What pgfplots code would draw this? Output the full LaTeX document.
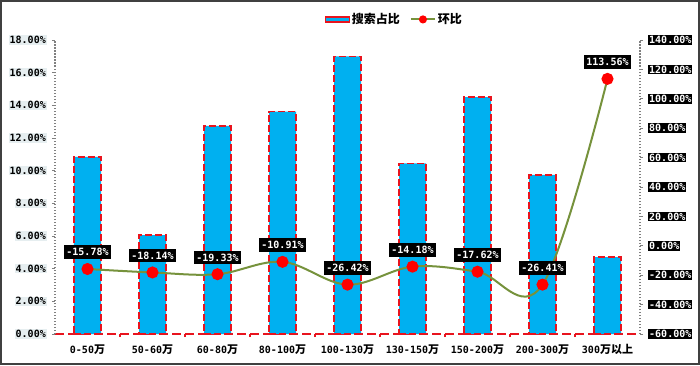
\documentclass[border=0pt]{standalone}
\usepackage{fontspec}
\setmainfont{Noto Sans CJK SC}
\newfontfamily\mono{DejaVu Sans Mono}
\usepackage{pgfplots}
\pgfplotsset{compat=1.18}
\definecolor{barblue}{HTML}{00B0F0}
\definecolor{barred}{HTML}{E8141E}
\definecolor{linegreen}{HTML}{76923C}
\definecolor{lblbg}{HTML}{E6EEF0}
\newcommand\m[1]{{\mono\bfseries\fontsize{10}{12}\selectfont #1}}
\begin{document}
\begin{tikzpicture}
\useasboundingbox (-55pt,-31pt) rectangle (645pt,334pt);
\begin{axis}[
  scale only axis, width=585pt, height=294pt,
  xmin=-0.5, xmax=8.5, ymin=0, ymax=18,
  axis x line*=bottom, axis y line*=left,
  x axis line style={barred, dash pattern=on 9pt off 4pt, line width=1.6pt, -},
  y axis line style={gray, dash pattern=on 1.5pt off 1.5pt, line width=1.8pt, -},
  xtick={0,...,8},
  xticklabels={{\m{0-50}万},{\m{50-60}万},{\m{60-80}万},{\m{80-100}万},{\m{100-130}万},{\m{130-150}万},{\m{150-200}万},{\m{200-300}万},{\m{300}万以上}},
  xticklabel style={font=\bfseries\fontsize{11}{13}\selectfont, yshift=-4pt},
  major x tick style={draw=none},
  minor xtick={0.5,1.5,...,7.5},
  minor x tick style={barred, line width=1.2pt},
  minor tick length=3pt,
  ytick={0,2,...,18},
  major y tick style={gray, line width=1pt},
  major tick length=3pt,
  tick align=outside,
  /pgf/number format/assume math mode=true,
  yticklabel={\m{\pgfmathprintnumber[fixed,fixed zerofill,precision=2]{\tick}\%}},
  yticklabel style={fill=lblbg, inner sep=1pt, xshift=-5pt},
  ybar, bar width=27pt,
  clip=false,
]
\addplot[fill=barblue, draw=barred, dash pattern=on 7pt off 3pt, line width=1.5pt, bar shift=0pt]
coordinates {(0,10.85) (1,6.05) (2,12.75) (3,13.62) (4,17.0) (5,10.45) (6,14.5) (7,9.75) (8,4.7)};
\end{axis}
\begin{axis}[
  scale only axis, width=585pt, height=294pt,
  xmin=-0.5, xmax=8.5, ymin=-60, ymax=140,
  axis y line*=right, axis x line=none,
  y axis line style={gray, dash pattern=on 1.5pt off 1.5pt, line width=1.8pt, -},
  ytick={-60,-40,...,140},
  major y tick style={gray, line width=1pt},
  major tick length=3pt,
  tick align=outside,
  /pgf/number format/assume math mode=true,
  yticklabel={\m{\pgfmathprintnumber[fixed,fixed zerofill,precision=2]{\tick}\%}},
  yticklabel style={fill=black, text=white, inner sep=1pt, xshift=5pt},
  clip=false,
  legend style={draw=none, fill=none, at={(0.58,1.07)}, anchor=center,
    legend columns=2, font=\bfseries\fontsize{12}{14}\selectfont,
    /tikz/every even column/.append style={column sep=8pt}},
]
\addlegendimage{legend image code/.code={\draw[fill=barblue, draw=barred, line width=1.3pt] (0pt,-2.5pt) rectangle (24pt,2.5pt);}}
\addlegendentry{搜索占比}
\addplot[color=linegreen, line width=2pt, smooth, tension=0.6,
  mark=*, mark size=5pt, mark options={fill=red, draw=red, solid},
  nodes near coords={\m{\pgfmathprintnumber[fixed,fixed zerofill,precision=2]{\pgfplotspointmeta}\%}},
  every node near coord/.append style={anchor=south, yshift=9pt, fill=black, text=white, inner xsep=2pt, inner ysep=3pt},
  legend image code/.code={\draw[linegreen, line width=2pt] (0pt,0pt) -- (24pt,0pt); \fill[red] (12pt,0pt) circle (3pt);}]
coordinates {(0,-15.78) (1,-18.14) (2,-19.33) (3,-10.91) (4,-26.42) (5,-14.18) (6,-17.62) (7,-26.41) (8,113.56)};
\addlegendentry{环比}
\end{axis}
\draw[black!75, line width=1.5pt] (-54pt,-30pt) rectangle (644pt,333pt);
\end{tikzpicture}
\end{document}
